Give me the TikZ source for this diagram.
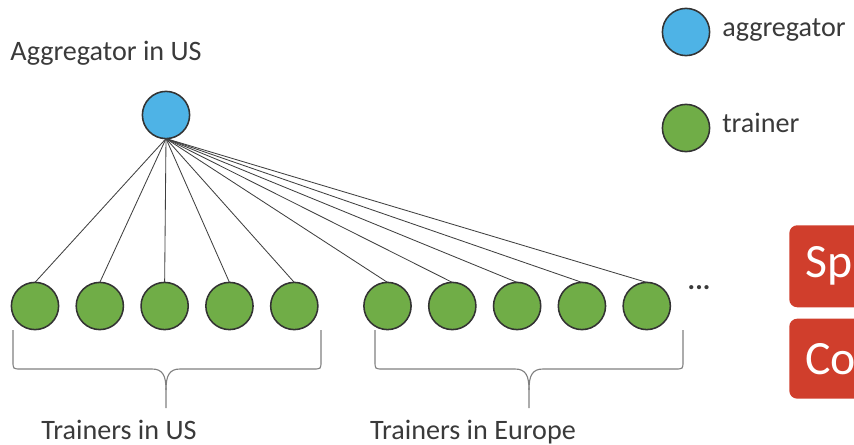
\documentclass[tikz,border=0pt]{standalone}
\usepackage{fontspec}
\setmainfont{Carlito}
\usetikzlibrary{positioning}

\definecolor{aggblue}{HTML}{4EB3E6}
\definecolor{trainergreen}{HTML}{70AD47}
\definecolor{boxred}{HTML}{D03E2C}
\definecolor{textgray}{HTML}{3A3A3A}

\begin{document}
\begin{tikzpicture}[x=0.025cm, y=-0.025cm, font=\fontsize{20}{24}\selectfont, text=textgray,
  aggregator/.style={circle, draw=black!80, line width=1.1pt, fill=aggblue, minimum size=1.18cm, inner sep=0pt, outer sep=0pt},
  trainer/.style={circle, draw=black!80, line width=1.1pt, fill=trainergreen, minimum size=1.18cm, inner sep=0pt, outer sep=0pt},
  plaintext/.style={inner sep=0pt, anchor=base},
  link/.style={draw=black!75, line width=0.6pt},
  bracket/.style={draw=black!50, line width=0.8pt},
  redbox/.style={fill=boxred, rounded corners=0.2cm, text=white, font=\fontsize{34}{40}\selectfont, text width=2.4cm, inner xsep=0.4cm, align=left}]

      \clip (0,0) rectangle (854,445);

      % aggregator and its caption
      \node[aggregator] (agg) at (166,115) {};
      \node[plaintext] (aggText) at (106,61) {Aggregator in US};

      % trainers in US
      \node[trainer] (us1) at (35,306) {};
      \node[trainer, right=0.44cm of us1] (us2) {};
      \node[trainer, right=0.44cm of us2] (us3) {};
      \node[trainer, right=0.44cm of us3] (us4) {};
      \node[trainer, right=0.44cm of us4] (us5) {};

      % trainers in Europe
      \node[trainer, right=1.15cm of us5] (eu1) {};
      \node[trainer, right=0.44cm of eu1] (eu2) {};
      \node[trainer, right=0.44cm of eu2] (eu3) {};
      \node[trainer, right=0.44cm of eu3] (eu4) {};
      \node[trainer, right=0.44cm of eu4] (eu5) {};
      \node[inner sep=0pt, right=0.6cm of eu5.north east, anchor=west, yshift=0.05cm] (more) {\textbf{...}};

      \draw[link] (agg.south) -- (us1.north);
      \draw[link] (agg.south) -- (us2.north);
      \draw[link] (agg.south) -- (us3.north);
      \draw[link] (agg.south) -- (us4.north);
      \draw[link] (agg.south) -- (us5.north);
      \draw[link] (agg.south) -- (eu1.north);
      \draw[link] (agg.south) -- (eu2.north);
      \draw[link] (agg.south) -- (eu3.north);
      \draw[link] (agg.south) -- (eu4.north);
      \draw[link] (agg.south) -- (eu5.north);

      % braces
      \draw[bracket] (13,330) -- (13,361) .. controls (13,369) .. (21,369) -- (152,369)
        .. controls (163,369) and (166,376) .. (166,390) -- (166,408);
      \draw[bracket] (321,330) -- (321,361) .. controls (321,369) .. (313,369) -- (180,369)
        .. controls (169,369) and (166,376) .. (166,390);
      \draw[bracket] (375,330) -- (375,361) .. controls (375,369) .. (383,369) -- (515,369)
        .. controls (526,369) and (529,376) .. (529,390) -- (529,408);
      \draw[bracket] (683,330) -- (683,361) .. controls (683,369) .. (675,369) -- (543,369)
        .. controls (532,369) and (529,376) .. (529,390);

      \node[plaintext] (usText) at (119,439) {Trainers in US};
      \node[plaintext] (euText) at (473,439) {Trainers in Europe};

      % legend
      \node[aggregator] (legAgg) at (686,32) {};
      \node[plaintext, anchor=base west] (legAggText) at (722,37) {aggregator};
      \node[trainer] (legTrainer) at (686,128) {};
      \node[plaintext, anchor=base west] (legTrainerText) at (722,133) {trainer};

      % cut-off boxes
      \node[redbox, minimum height=2.05cm, anchor=north west] (sp) at (789,225) {Sp};
      \node[redbox, minimum height=2.0cm, below=0.27cm of sp.south west, anchor=north west] (co) {Co};
\end{tikzpicture}
\end{document}
